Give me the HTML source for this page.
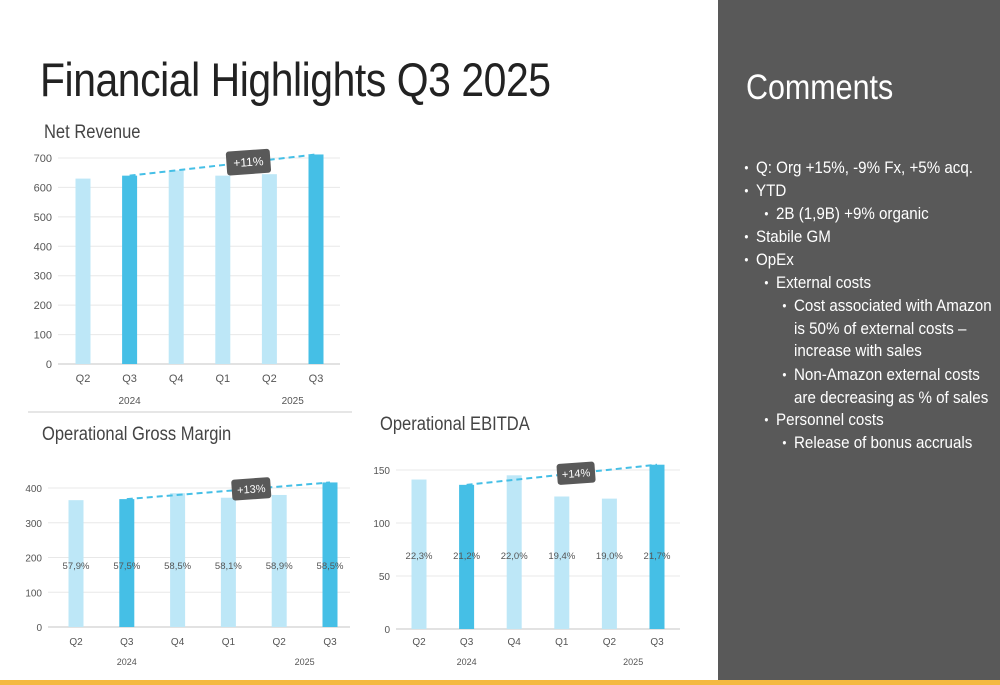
<!DOCTYPE html>
<html><head><meta charset="utf-8"><style>
*{margin:0;padding:0}
body{width:1000px;height:685px;overflow:hidden;background:#fff;position:relative;font-family:"Liberation Sans",sans-serif}
.t{position:absolute;white-space:nowrap;transform:scaleX(0.87);transform-origin:0 0}
#side{position:absolute;left:718px;top:0;width:282px;height:680px;background:#595959}
#foot{position:absolute;left:0;top:680px;width:1000px;height:5px;background:#f4b942}
.li{position:absolute;color:#fff;font-size:17px;white-space:nowrap;line-height:22.5px;transform:scaleX(0.89);transform-origin:0 0}
.li:before{content:"•";position:absolute;left:-13px;font-size:13px}
svg text{font-family:"Liberation Sans",sans-serif}
</style></head><body>
<div class="t" style="left:40px;top:52px;font-size:47px;color:#222;letter-spacing:-0.5px">Financial Highlights Q3 2025</div>
<div class="t" style="left:44px;top:122px;font-size:19px;color:#444">Net Revenue</div>
<div class="t" style="left:42px;top:424px;font-size:19px;color:#444">Operational Gross Margin</div>
<div class="t" style="left:380px;top:414px;font-size:19px;color:#444">Operational EBITDA</div>
<div style="position:absolute;left:28px;top:411px;width:324px;height:2px;background:#e6e6e6"></div>
<svg id="svg" width="718" height="680" style="position:absolute;left:0;top:0"></svg>
<div id="side">
<div class="t" style="left:28px;top:68px;font-size:35px;color:#fff">Comments</div>
<div class="li" style="left:38px;top:157px">Q: Org +15%, -9% Fx, +5% acq.</div>
<div class="li" style="left:38px;top:180px">YTD</div>
<div class="li" style="left:58px;top:203px">2B (1,9B) +9% organic</div>
<div class="li" style="left:38px;top:226px">Stabile GM</div>
<div class="li" style="left:38px;top:249px">OpEx</div>
<div class="li" style="left:58px;top:272px">External costs</div>
<div class="li" style="left:76px;top:295px">Cost associated with Amazon<br>is 50% of external costs –<br>increase with sales</div>
<div class="li" style="left:76px;top:364px">Non-Amazon external costs<br>are decreasing as % of sales</div>
<div class="li" style="left:58px;top:409px">Personnel costs</div>
<div class="li" style="left:76px;top:432px">Release of bonus accruals</div>
</div>
<div id="foot"></div>
<script>
const quarters=["Q2","Q3","Q4","Q1","Q2","Q3"];
const years=["2024","2025"];
const revenue=[630,640,658,640,645,712];
const grossMargin=[365,368,385,372,380,416];
const gmPct=["57,9%","57,5%","58,5%","58,1%","58,9%","58,5%"];
const ebitda=[141,136,145,125,123,155];
const ebPct=["22,3%","21,2%","22,0%","19,4%","19,0%","21,7%"];
const revTicks=[0,100,200,300,400,500,600,700];
const gmTicks=[0,100,200,300,400];
const ebTicks=[0,50,100,150];
const growth=["+11%","+13%","+14%"];
const svg=document.getElementById('svg');const NS="http://www.w3.org/2000/svg";
function mk(t,a,txt){const e=document.createElementNS(NS,t);for(const k in a)e.setAttribute(k,a[k]);if(txt!=null)e.textContent=txt;svg.appendChild(e);return e;}
function chart(o){
 const y=v=>o.y0-(v/o.vmax)*(o.y0-o.ytop);
 const x=i=>o.x0+i*o.step;
 o.ticks.forEach(t=>{const l=mk('line',{x1:o.gx1,x2:o.gx2,y1:y(t),y2:y(t),stroke:t===0?'#d9d9d9':'#e8e8e8','stroke-width':t===0?1.5:1});
  
  const tx=mk('text',{x:o.gx1-6,y:y(t)+4,'text-anchor':'end','font-size':o.fs,fill:'#555'},t);
  });
 o.vals.forEach((v,i)=>{const dark=(i===1||i===5);
  const r=mk('rect',{x:x(i)-o.bw/2,y:y(v),width:o.bw,height:y(0)-y(v),fill:dark?'#45bfe6':'#bde7f7'});
  
  
  const q=mk('text',{x:x(i),y:o.y0+o.qdy,'text-anchor':'middle','font-size':o.fs,fill:'#555'},quarters[i]);
  
  if(o.pct){const p=mk('text',{x:x(i),y:o.py,'text-anchor':'middle','font-size':o.fs-0.5,fill:'#555'},o.pct[i]);
   }
 });
 [1,4.5].forEach((c,k)=>{const t=mk('text',{x:x(c),y:o.y0+o.ydy,'text-anchor':'middle','font-size':o.fs-1,fill:'#555'},years[k]);
  });
 const d=mk('line',{x1:x(1),y1:y(o.vals[1]),x2:x(5),y2:y(o.vals[5]),stroke:'#45bfe6','stroke-width':2,'stroke-dasharray':'6,4'});
 
 const cx=x(o.bx),cy=y(o.vals[1])+(y(o.vals[5])-y(o.vals[1]))*(o.bx-1)/4;
 const g=document.createElementNS(NS,'g');g.setAttribute('transform','rotate(-4 '+cx+' '+cy+')');svg.appendChild(g);
 
 const rr=document.createElementNS(NS,'rect');[['x',cx-o.cw/2],['y',cy-o.ch/2],['width',o.cw],['height',o.ch],['rx',3],['fill','#595959']].forEach(a=>rr.setAttribute(a[0],a[1]));g.appendChild(rr);
 const tt=document.createElementNS(NS,'text');[['x',cx],['y',cy+4],['text-anchor','middle'],['font-size',o.fs+1],['fill','#fff']].forEach(a=>tt.setAttribute(a[0],a[1]));tt.textContent=o.label;g.appendChild(tt);
}
chart({vals:revenue,ticks:revTicks,vmax:700,y0:364,ytop:158,x0:83,step:46.6,bw:15,gx1:58,gx2:340,fs:11,qdy:18,ydy:40,bx:3.55,label:growth[0],cw:44,ch:24});
chart({vals:grossMargin,ticks:gmTicks,vmax:400,y0:627,ytop:488,x0:76,step:50.8,bw:15,gx1:48,gx2:350,fs:10,qdy:18,ydy:38,bx:3.45,label:growth[1],cw:39,ch:21,pct:gmPct,py:569});
chart({vals:ebitda,ticks:ebTicks,vmax:150,y0:629,ytop:470,x0:419,step:47.6,bw:15,gx1:396,gx2:680,fs:10,qdy:16,ydy:36,bx:3.3,label:growth[2],cw:38,ch:21,pct:ebPct,py:559});
</script>
</body></html>
